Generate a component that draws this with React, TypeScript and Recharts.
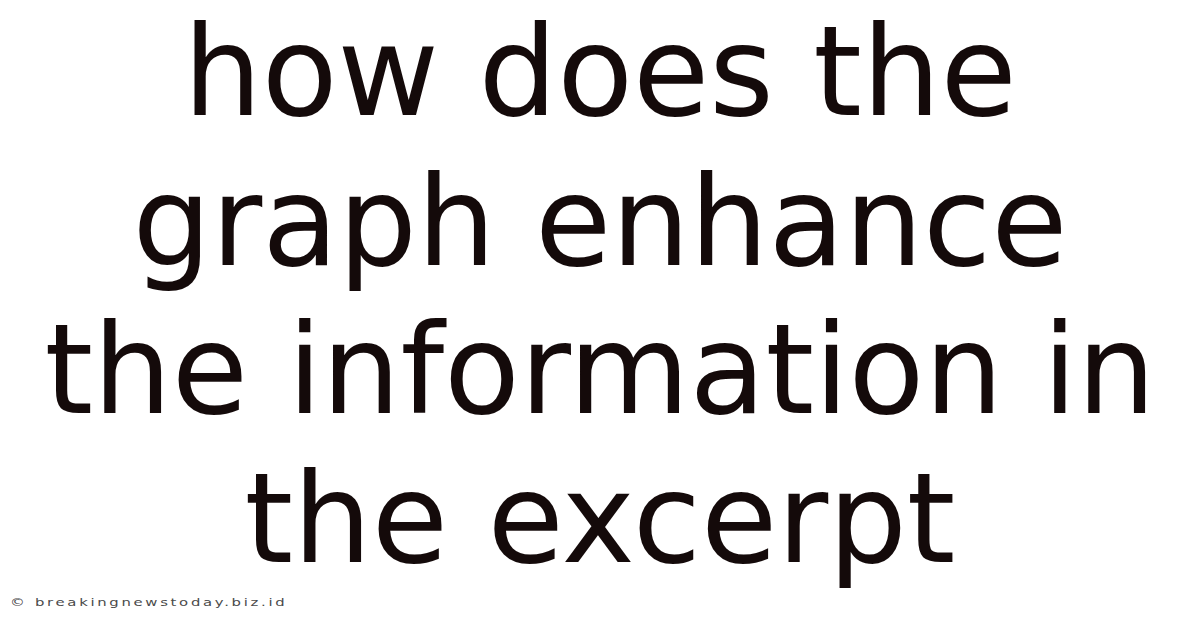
import { Surface, Text } from 'recharts';

// Headline lines and footer credit
const headlineLines = ['how does the', 'graph enhance', 'the information in', 'the excerpt'];
const lineBaselines = [115, 265, 413, 562];
const footerText = '© breakingnewstoday.biz.id';

const WIDTH = 1200;
const HEIGHT = 628;

export default function App() {
  return (
    <div style={{ position: 'fixed', left: 0, top: 0, width: WIDTH, height: HEIGHT, background: '#ffffff' }}>
      <Surface width={WIDTH} height={HEIGHT}>
        {headlineLines.map((line, i) => (
          <Text
            key={line}
            x={WIDTH / 2}
            y={lineBaselines[i]}
            textAnchor="middle"
            verticalAnchor="end"
            fontFamily="DejaVu Sans"
            fontSize={124}
            fill="#140a0a"
          >
            {line}
          </Text>
        ))}
        {/* footer credit is drawn wide, so stretch it horizontally */}
        <g transform="translate(10,606) scale(1.35,1)">
          <Text
            x={0}
            y={0}
            verticalAnchor="end"
            fontFamily="DejaVu Sans"
            fontSize={11}
            letterSpacing={2}
            fill="#4a4a4a"
          >
            {footerText}
          </Text>
        </g>
      </Surface>
    </div>
  );
}
